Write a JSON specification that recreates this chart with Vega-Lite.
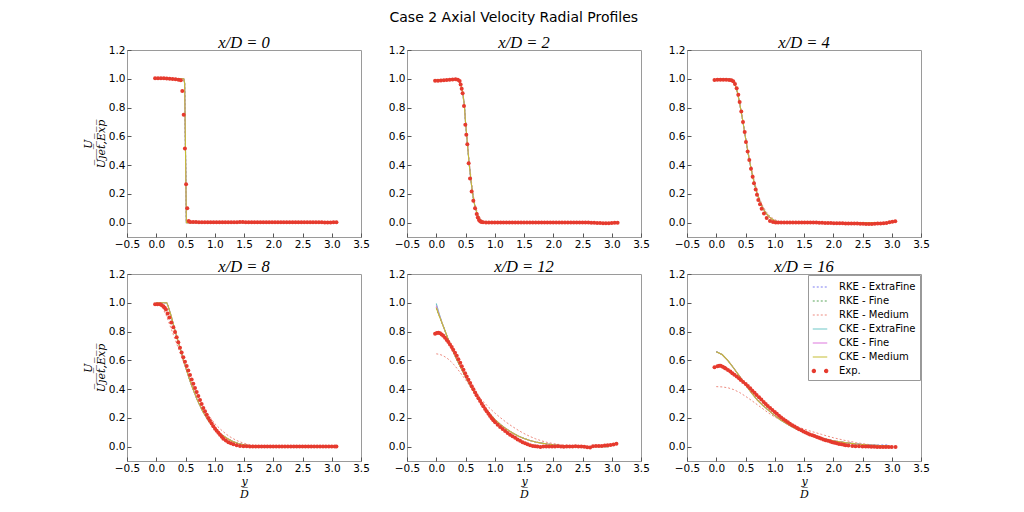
{
  "$schema": "https://vega.github.io/schema/vega-lite/v6.json",
  "description": "Case 2 axial velocity radial profiles: RKE and CKE runs on three grids against the measured profile, six stations x/D.",
  "background": "white",
  "padding": {"left": 81, "top": 11, "right": 5, "bottom": 5},
  "title": {"text": "Case 2 Axial Velocity Radial Profiles", "font": "DejaVu Sans", "fontStyle": "normal", "fontSize": 14, "fontWeight": "normal", "color": "black", "anchor": "middle", "frame": "bounds", "dx": 8, "offset": 9},
  "datasets": {
    "names": [
      {"k": "a", "series": "RKE - ExtraFine"},
      {"k": "b", "series": "RKE - Fine"},
      {"k": "c", "series": "RKE - Medium"},
      {"k": "d", "series": "CKE - ExtraFine"},
      {"k": "e", "series": "CKE - Fine"},
      {"k": "f", "series": "CKE - Medium"}
    ],
    "sim": [
      {"p":0,"r":0,"a":1,"b":1,"c":1,"d":1,"e":1,"f":1},
      {"p":0,"r":0.2,"a":1,"b":1,"c":1,"d":1,"e":1,"f":1},
      {"p":0,"r":0.47,"a":1,"b":1,"c":1,"d":1,"e":1,"f":1},
      {"p":0,"r":0.485,"a":0.97,"b":0.97,"c":0.97,"d":0.97,"e":0.97,"f":0.97},
      {"p":0,"r":0.5,"a":0.5,"b":0.5,"c":0.5,"d":0.5,"e":0.5,"f":0.5},
      {"p":0,"r":0.515,"a":0,"b":0,"c":0,"d":0,"e":0,"f":0},
      {"p":0,"r":0.6,"a":0,"b":0,"c":0,"d":0,"e":0,"f":0},
      {"p":0,"r":1.5,"a":0,"b":0,"c":0,"d":0,"e":0,"f":0},
      {"p":0,"r":2.95,"a":0,"b":0,"c":0,"d":0,"e":0,"f":0},

      {"p":1,"r":0,"a":0.995,"b":0.995,"c":0.995,"d":0.995,"e":0.995,"f":0.995},
      {"p":1,"r":0.1,"a":0.995,"b":0.995,"c":0.995,"d":0.995,"e":0.995,"f":0.995},
      {"p":1,"r":0.2,"a":0.995,"b":0.995,"c":0.995,"d":0.995,"e":0.995,"f":0.995},
      {"p":1,"r":0.3,"a":0.995,"b":0.995,"c":0.994,"d":0.995,"e":0.995,"f":0.995},
      {"p":1,"r":0.35,"a":0.993,"b":0.993,"c":0.99,"d":0.993,"e":0.993,"f":0.993},
      {"p":1,"r":0.4,"a":0.98,"b":0.98,"c":0.975,"d":0.98,"e":0.98,"f":0.98},
      {"p":1,"r":0.43,"a":0.95,"b":0.95,"c":0.94,"d":0.95,"e":0.95,"f":0.95},
      {"p":1,"r":0.45,"a":0.91,"b":0.91,"c":0.9,"d":0.91,"e":0.91,"f":0.91},
      {"p":1,"r":0.48,"a":0.82,"b":0.82,"c":0.8,"d":0.82,"e":0.82,"f":0.82},
      {"p":1,"r":0.5,"a":0.7,"b":0.7,"c":0.71,"d":0.7,"e":0.7,"f":0.7},
      {"p":1,"r":0.53,"a":0.56,"b":0.56,"c":0.57,"d":0.56,"e":0.56,"f":0.56},
      {"p":1,"r":0.56,"a":0.42,"b":0.42,"c":0.44,"d":0.42,"e":0.42,"f":0.42},
      {"p":1,"r":0.6,"a":0.27,"b":0.27,"c":0.29,"d":0.27,"e":0.27,"f":0.27},
      {"p":1,"r":0.63,"a":0.18,"b":0.18,"c":0.2,"d":0.18,"e":0.18,"f":0.18},
      {"p":1,"r":0.66,"a":0.115,"b":0.115,"c":0.13,"d":0.115,"e":0.115,"f":0.115},
      {"p":1,"r":0.7,"a":0.06,"b":0.06,"c":0.075,"d":0.06,"e":0.06,"f":0.06},
      {"p":1,"r":0.75,"a":0.022,"b":0.022,"c":0.033,"d":0.022,"e":0.022,"f":0.022},
      {"p":1,"r":0.8,"a":0.006,"b":0.006,"c":0.012,"d":0.006,"e":0.006,"f":0.006},
      {"p":1,"r":0.85,"a":0.001,"b":0.001,"c":0.004,"d":0.001,"e":0.001,"f":0.001},
      {"p":1,"r":0.9,"a":0,"b":0,"c":0.001,"d":0,"e":0,"f":0},
      {"p":1,"r":1.5,"a":0,"b":0,"c":0,"d":0,"e":0,"f":0},
      {"p":1,"r":2.95,"a":0,"b":0,"c":0,"d":0,"e":0,"f":0},

      {"p":2,"r":0,"a":0.998,"b":0.998,"c":0.998,"d":0.998,"e":0.998,"f":0.998},
      {"p":2,"r":0.1,"a":0.998,"b":0.998,"c":0.998,"d":0.998,"e":0.998,"f":0.998},
      {"p":2,"r":0.2,"a":0.998,"b":0.998,"c":0.997,"d":0.998,"e":0.998,"f":0.998},
      {"p":2,"r":0.25,"a":0.996,"b":0.996,"c":0.99,"d":0.996,"e":0.996,"f":0.996},
      {"p":2,"r":0.28,"a":0.99,"b":0.99,"c":0.98,"d":0.99,"e":0.99,"f":0.99},
      {"p":2,"r":0.32,"a":0.96,"b":0.96,"c":0.955,"d":0.96,"e":0.96,"f":0.96},
      {"p":2,"r":0.36,"a":0.91,"b":0.91,"c":0.905,"d":0.91,"e":0.91,"f":0.91},
      {"p":2,"r":0.4,"a":0.83,"b":0.83,"c":0.83,"d":0.83,"e":0.83,"f":0.83},
      {"p":2,"r":0.45,"a":0.715,"b":0.715,"c":0.72,"d":0.715,"e":0.715,"f":0.715},
      {"p":2,"r":0.5,"a":0.59,"b":0.59,"c":0.6,"d":0.59,"e":0.59,"f":0.59},
      {"p":2,"r":0.55,"a":0.47,"b":0.47,"c":0.485,"d":0.47,"e":0.47,"f":0.47},
      {"p":2,"r":0.6,"a":0.365,"b":0.365,"c":0.38,"d":0.365,"e":0.365,"f":0.365},
      {"p":2,"r":0.65,"a":0.275,"b":0.275,"c":0.29,"d":0.275,"e":0.275,"f":0.275},
      {"p":2,"r":0.7,"a":0.2,"b":0.2,"c":0.215,"d":0.2,"e":0.2,"f":0.2},
      {"p":2,"r":0.75,"a":0.142,"b":0.142,"c":0.157,"d":0.142,"e":0.142,"f":0.142},
      {"p":2,"r":0.8,"a":0.098,"b":0.098,"c":0.112,"d":0.098,"e":0.098,"f":0.098},
      {"p":2,"r":0.85,"a":0.066,"b":0.066,"c":0.077,"d":0.066,"e":0.066,"f":0.066},
      {"p":2,"r":0.9,"a":0.042,"b":0.042,"c":0.052,"d":0.042,"e":0.042,"f":0.042},
      {"p":2,"r":0.95,"a":0.025,"b":0.025,"c":0.034,"d":0.025,"e":0.025,"f":0.025},
      {"p":2,"r":1.0,"a":0.013,"b":0.013,"c":0.021,"d":0.013,"e":0.013,"f":0.013},
      {"p":2,"r":1.05,"a":0.006,"b":0.006,"c":0.012,"d":0.006,"e":0.006,"f":0.006},
      {"p":2,"r":1.1,"a":0.002,"b":0.002,"c":0.006,"d":0.002,"e":0.002,"f":0.002},
      {"p":2,"r":1.15,"a":0,"b":0,"c":0.002,"d":0,"e":0,"f":0},
      {"p":2,"r":1.2,"a":0,"b":0,"c":0,"d":0,"e":0,"f":0},
      {"p":2,"r":1.5,"a":0,"b":0,"c":0,"d":0,"e":0,"f":0},
      {"p":2,"r":2.95,"a":0,"b":0,"c":0,"d":0,"e":0,"f":0},

      {"p":3,"r":0,"a":1,"b":1,"c":1,"d":1,"e":1,"f":1},
      {"p":3,"r":0.05,"a":1,"b":1,"c":0.995,"d":1,"e":1,"f":1},
      {"p":3,"r":0.1,"a":1,"b":1,"c":0.97,"d":1,"e":1,"f":1},
      {"p":3,"r":0.15,"a":1,"b":1,"c":0.93,"d":1,"e":1,"f":1},
      {"p":3,"r":0.18,"a":1,"b":1,"c":0.905,"d":1,"e":1,"f":1},
      {"p":3,"r":0.2,"a":0.98,"b":0.98,"c":0.88,"d":0.98,"e":0.98,"f":0.98},
      {"p":3,"r":0.25,"a":0.915,"b":0.915,"c":0.825,"d":0.915,"e":0.915,"f":0.915},
      {"p":3,"r":0.3,"a":0.84,"b":0.84,"c":0.77,"d":0.84,"e":0.84,"f":0.84},
      {"p":3,"r":0.35,"a":0.765,"b":0.765,"c":0.715,"d":0.765,"e":0.765,"f":0.765},
      {"p":3,"r":0.4,"a":0.695,"b":0.695,"c":0.66,"d":0.695,"e":0.695,"f":0.695},
      {"p":3,"r":0.45,"a":0.625,"b":0.625,"c":0.605,"d":0.625,"e":0.625,"f":0.625},
      {"p":3,"r":0.5,"a":0.555,"b":0.555,"c":0.55,"d":0.555,"e":0.555,"f":0.555},
      {"p":3,"r":0.55,"a":0.49,"b":0.49,"c":0.5,"d":0.49,"e":0.49,"f":0.49},
      {"p":3,"r":0.6,"a":0.43,"b":0.43,"c":0.45,"d":0.43,"e":0.43,"f":0.43},
      {"p":3,"r":0.7,"a":0.325,"b":0.325,"c":0.36,"d":0.325,"e":0.325,"f":0.325},
      {"p":3,"r":0.8,"a":0.24,"b":0.24,"c":0.28,"d":0.24,"e":0.24,"f":0.24},
      {"p":3,"r":0.9,"a":0.175,"b":0.175,"c":0.215,"d":0.175,"e":0.175,"f":0.175},
      {"p":3,"r":1.0,"a":0.125,"b":0.125,"c":0.16,"d":0.125,"e":0.125,"f":0.125},
      {"p":3,"r":1.1,"a":0.088,"b":0.088,"c":0.12,"d":0.088,"e":0.088,"f":0.088},
      {"p":3,"r":1.2,"a":0.06,"b":0.06,"c":0.085,"d":0.06,"e":0.06,"f":0.06},
      {"p":3,"r":1.3,"a":0.038,"b":0.038,"c":0.058,"d":0.038,"e":0.038,"f":0.038},
      {"p":3,"r":1.4,"a":0.022,"b":0.022,"c":0.038,"d":0.022,"e":0.022,"f":0.022},
      {"p":3,"r":1.5,"a":0.012,"b":0.012,"c":0.023,"d":0.012,"e":0.012,"f":0.012},
      {"p":3,"r":1.6,"a":0.005,"b":0.005,"c":0.013,"d":0.005,"e":0.005,"f":0.005},
      {"p":3,"r":1.7,"a":0.002,"b":0.002,"c":0.006,"d":0.002,"e":0.002,"f":0.002},
      {"p":3,"r":1.8,"a":0.001,"b":0.001,"c":0.002,"d":0.001,"e":0.001,"f":0.001},
      {"p":3,"r":1.9,"a":0,"b":0,"c":0.001,"d":0,"e":0,"f":0},
      {"p":3,"r":2.0,"a":0,"b":0,"c":0,"d":0,"e":0,"f":0},
      {"p":3,"r":2.95,"a":0,"b":0,"c":0,"d":0,"e":0,"f":0},

      {"p":4,"r":0,"a":0.965,"b":0.965,"c":0.645,"d":0.995,"e":0.98,"f":0.965},
      {"p":4,"r":0.05,"a":0.91,"b":0.91,"c":0.642,"d":0.925,"e":0.918,"f":0.91},
      {"p":4,"r":0.1,"a":0.858,"b":0.858,"c":0.635,"d":0.86,"e":0.859,"f":0.858},
      {"p":4,"r":0.15,"a":0.805,"b":0.805,"c":0.624,"d":0.805,"e":0.805,"f":0.805},
      {"p":4,"r":0.2,"a":0.75,"b":0.75,"c":0.61,"d":0.75,"e":0.75,"f":0.75},
      {"p":4,"r":0.25,"a":0.7,"b":0.7,"c":0.592,"d":0.7,"e":0.7,"f":0.7},
      {"p":4,"r":0.3,"a":0.65,"b":0.65,"c":0.57,"d":0.65,"e":0.65,"f":0.65},
      {"p":4,"r":0.35,"a":0.605,"b":0.605,"c":0.546,"d":0.605,"e":0.605,"f":0.605},
      {"p":4,"r":0.4,"a":0.565,"b":0.565,"c":0.52,"d":0.565,"e":0.565,"f":0.565},
      {"p":4,"r":0.5,"a":0.485,"b":0.485,"c":0.465,"d":0.485,"e":0.485,"f":0.485},
      {"p":4,"r":0.6,"a":0.41,"b":0.41,"c":0.41,"d":0.41,"e":0.41,"f":0.41},
      {"p":4,"r":0.7,"a":0.345,"b":0.345,"c":0.36,"d":0.345,"e":0.345,"f":0.345},
      {"p":4,"r":0.8,"a":0.287,"b":0.287,"c":0.315,"d":0.287,"e":0.287,"f":0.287},
      {"p":4,"r":0.9,"a":0.235,"b":0.235,"c":0.272,"d":0.235,"e":0.235,"f":0.235},
      {"p":4,"r":1.0,"a":0.19,"b":0.19,"c":0.234,"d":0.19,"e":0.19,"f":0.19},
      {"p":4,"r":1.1,"a":0.153,"b":0.153,"c":0.2,"d":0.153,"e":0.153,"f":0.153},
      {"p":4,"r":1.2,"a":0.122,"b":0.122,"c":0.168,"d":0.122,"e":0.122,"f":0.122},
      {"p":4,"r":1.3,"a":0.096,"b":0.096,"c":0.14,"d":0.096,"e":0.096,"f":0.096},
      {"p":4,"r":1.4,"a":0.074,"b":0.074,"c":0.114,"d":0.074,"e":0.074,"f":0.074},
      {"p":4,"r":1.5,"a":0.057,"b":0.057,"c":0.091,"d":0.057,"e":0.057,"f":0.057},
      {"p":4,"r":1.6,"a":0.043,"b":0.043,"c":0.071,"d":0.043,"e":0.043,"f":0.043},
      {"p":4,"r":1.7,"a":0.032,"b":0.032,"c":0.054,"d":0.032,"e":0.032,"f":0.032},
      {"p":4,"r":1.8,"a":0.024,"b":0.024,"c":0.04,"d":0.024,"e":0.024,"f":0.024},
      {"p":4,"r":1.9,"a":0.018,"b":0.018,"c":0.029,"d":0.018,"e":0.018,"f":0.018},
      {"p":4,"r":2.0,"a":0.013,"b":0.013,"c":0.021,"d":0.013,"e":0.013,"f":0.013},
      {"p":4,"r":2.1,"a":0.009,"b":0.009,"c":0.015,"d":0.009,"e":0.009,"f":0.009},
      {"p":4,"r":2.2,"a":0.006,"b":0.006,"c":0.011,"d":0.006,"e":0.006,"f":0.006},
      {"p":4,"r":2.3,"a":0.004,"b":0.004,"c":0.008,"d":0.004,"e":0.004,"f":0.004},
      {"p":4,"r":2.4,"a":0.002,"b":0.002,"c":0.005,"d":0.002,"e":0.002,"f":0.002},
      {"p":4,"r":2.6,"a":0.001,"b":0.001,"c":0.002,"d":0.001,"e":0.001,"f":0.001},
      {"p":4,"r":2.95,"a":0,"b":0,"c":0,"d":0,"e":0,"f":0},

      {"p":5,"r":0,"a":0.66,"b":0.66,"c":0.417,"d":0.66,"e":0.66,"f":0.66},
      {"p":5,"r":0.1,"a":0.64,"b":0.64,"c":0.415,"d":0.64,"e":0.64,"f":0.64},
      {"p":5,"r":0.2,"a":0.598,"b":0.598,"c":0.409,"d":0.598,"e":0.598,"f":0.598},
      {"p":5,"r":0.3,"a":0.545,"b":0.545,"c":0.396,"d":0.545,"e":0.545,"f":0.545},
      {"p":5,"r":0.4,"a":0.488,"b":0.488,"c":0.376,"d":0.488,"e":0.488,"f":0.488},
      {"p":5,"r":0.5,"a":0.43,"b":0.43,"c":0.35,"d":0.43,"e":0.43,"f":0.43},
      {"p":5,"r":0.6,"a":0.375,"b":0.375,"c":0.322,"d":0.375,"e":0.375,"f":0.375},
      {"p":5,"r":0.7,"a":0.325,"b":0.325,"c":0.292,"d":0.325,"e":0.325,"f":0.325},
      {"p":5,"r":0.8,"a":0.285,"b":0.285,"c":0.262,"d":0.285,"e":0.285,"f":0.285},
      {"p":5,"r":0.9,"a":0.25,"b":0.25,"c":0.232,"d":0.25,"e":0.25,"f":0.25},
      {"p":5,"r":1.0,"a":0.215,"b":0.215,"c":0.206,"d":0.215,"e":0.215,"f":0.215},
      {"p":5,"r":1.1,"a":0.185,"b":0.185,"c":0.186,"d":0.185,"e":0.185,"f":0.185},
      {"p":5,"r":1.2,"a":0.16,"b":0.16,"c":0.168,"d":0.16,"e":0.16,"f":0.16},
      {"p":5,"r":1.3,"a":0.137,"b":0.137,"c":0.151,"d":0.137,"e":0.137,"f":0.137},
      {"p":5,"r":1.4,"a":0.117,"b":0.117,"c":0.136,"d":0.117,"e":0.117,"f":0.117},
      {"p":5,"r":1.5,"a":0.1,"b":0.1,"c":0.122,"d":0.1,"e":0.1,"f":0.1},
      {"p":5,"r":1.6,"a":0.085,"b":0.085,"c":0.109,"d":0.085,"e":0.085,"f":0.085},
      {"p":5,"r":1.7,"a":0.072,"b":0.072,"c":0.097,"d":0.072,"e":0.072,"f":0.072},
      {"p":5,"r":1.8,"a":0.06,"b":0.06,"c":0.085,"d":0.06,"e":0.06,"f":0.06},
      {"p":5,"r":1.9,"a":0.05,"b":0.05,"c":0.073,"d":0.05,"e":0.05,"f":0.05},
      {"p":5,"r":2.0,"a":0.041,"b":0.041,"c":0.062,"d":0.041,"e":0.041,"f":0.041},
      {"p":5,"r":2.2,"a":0.028,"b":0.028,"c":0.043,"d":0.028,"e":0.028,"f":0.028},
      {"p":5,"r":2.4,"a":0.018,"b":0.018,"c":0.027,"d":0.018,"e":0.018,"f":0.018},
      {"p":5,"r":2.6,"a":0.012,"b":0.011,"c":0.015,"d":0.011,"e":0.011,"f":0.011},
      {"p":5,"r":2.8,"a":0.011,"b":0.007,"c":0.007,"d":0.007,"e":0.007,"f":0.007},
      {"p":5,"r":2.95,"a":0.012,"b":0.005,"c":0.003,"d":0.005,"e":0.005,"f":0.005}
    ],
    "exp": [
      {"p":0,"r":-0.02,"u":1.003},{"p":0,"r":0.03,"u":1.004},{"p":0,"r":0.08,"u":1.004},{"p":0,"r":0.13,"u":1.003},{"p":0,"r":0.18,"u":1.002},{"p":0,"r":0.23,"u":1.0},{"p":0,"r":0.28,"u":0.998},{"p":0,"r":0.33,"u":0.996},{"p":0,"r":0.38,"u":0.993},{"p":0,"r":0.42,"u":0.99},{"p":0,"r":0.445,"u":0.915},{"p":0,"r":0.469,"u":0.75},{"p":0,"r":0.49,"u":0.515},{"p":0,"r":0.51,"u":0.266},{"p":0,"r":0.53,"u":0.099},{"p":0,"r":0.555,"u":0.012},{"p":0,"r":0.58,"u":0.005},{"p":0,"r":0.63,"u":0.004},{"p":0,"r":0.68,"u":0.004},{"p":0,"r":0.73,"u":0.003},{"p":0,"r":0.78,"u":0.003},{"p":0,"r":0.83,"u":0.003},{"p":0,"r":0.88,"u":0.003},{"p":0,"r":0.93,"u":0.003},{"p":0,"r":0.98,"u":0.003},{"p":0,"r":1.03,"u":0.003},{"p":0,"r":1.08,"u":0.003},{"p":0,"r":1.13,"u":0.003},{"p":0,"r":1.18,"u":0.003},{"p":0,"r":1.23,"u":0.003},{"p":0,"r":1.28,"u":0.003},{"p":0,"r":1.33,"u":0.003},{"p":0,"r":1.38,"u":0.003},{"p":0,"r":1.43,"u":0.004},{"p":0,"r":1.48,"u":0.004},{"p":0,"r":1.53,"u":0.003},{"p":0,"r":1.58,"u":0.002},{"p":0,"r":1.63,"u":0.002},{"p":0,"r":1.68,"u":0.002},{"p":0,"r":1.73,"u":0.002},{"p":0,"r":1.78,"u":0.002},{"p":0,"r":1.83,"u":0.002},{"p":0,"r":1.88,"u":0.002},{"p":0,"r":1.93,"u":0.002},{"p":0,"r":1.98,"u":0.002},{"p":0,"r":2.03,"u":0.002},{"p":0,"r":2.08,"u":0.002},{"p":0,"r":2.13,"u":0.002},{"p":0,"r":2.18,"u":0.002},{"p":0,"r":2.23,"u":0.002},{"p":0,"r":2.28,"u":0.002},{"p":0,"r":2.33,"u":0.002},{"p":0,"r":2.38,"u":0.002},{"p":0,"r":2.43,"u":0.002},{"p":0,"r":2.48,"u":0.002},{"p":0,"r":2.53,"u":0.002},{"p":0,"r":2.58,"u":0.002},{"p":0,"r":2.63,"u":0.002},{"p":0,"r":2.68,"u":0.002},{"p":0,"r":2.73,"u":0.002},{"p":0,"r":2.78,"u":0.002},{"p":0,"r":2.83,"u":0.002},{"p":0,"r":2.88,"u":0.001},{"p":0,"r":2.93,"u":0.001},{"p":0,"r":2.98,"u":0.001},{"p":0,"r":3.03,"u":0.002},{"p":0,"r":3.08,"u":0.002},

      {"p":1,"r":-0.02,"u":0.987},{"p":1,"r":0.03,"u":0.987},{"p":1,"r":0.08,"u":0.988},{"p":1,"r":0.13,"u":0.989},{"p":1,"r":0.18,"u":0.991},{"p":1,"r":0.23,"u":0.993},{"p":1,"r":0.28,"u":0.995},{"p":1,"r":0.33,"u":0.996},{"p":1,"r":0.37,"u":0.994},{"p":1,"r":0.4,"u":0.985},{"p":1,"r":0.417,"u":0.96},{"p":1,"r":0.435,"u":0.93},{"p":1,"r":0.451,"u":0.9},{"p":1,"r":0.474,"u":0.81},{"p":1,"r":0.497,"u":0.68},{"p":1,"r":0.514,"u":0.61},{"p":1,"r":0.531,"u":0.544},{"p":1,"r":0.554,"u":0.412},{"p":1,"r":0.577,"u":0.306},{"p":1,"r":0.605,"u":0.217},{"p":1,"r":0.634,"u":0.152},{"p":1,"r":0.663,"u":0.099},{"p":1,"r":0.691,"u":0.06},{"p":1,"r":0.71,"u":0.035},{"p":1,"r":0.73,"u":0.018},{"p":1,"r":0.75,"u":0.009},{"p":1,"r":0.77,"u":0.004},{"p":1,"r":0.8,"u":0.002},{"p":1,"r":0.85,"u":0.001},{"p":1,"r":0.9,"u":0.001},{"p":1,"r":0.95,"u":0.001},{"p":1,"r":1.0,"u":0.001},{"p":1,"r":1.05,"u":0.001},{"p":1,"r":1.1,"u":0.001},{"p":1,"r":1.15,"u":0.001},{"p":1,"r":1.2,"u":0.001},{"p":1,"r":1.25,"u":0.001},{"p":1,"r":1.3,"u":0.001},{"p":1,"r":1.35,"u":0.001},{"p":1,"r":1.4,"u":0.001},{"p":1,"r":1.45,"u":0.001},{"p":1,"r":1.5,"u":0.001},{"p":1,"r":1.55,"u":0.001},{"p":1,"r":1.6,"u":0.001},{"p":1,"r":1.65,"u":0.001},{"p":1,"r":1.7,"u":0.001},{"p":1,"r":1.75,"u":0.001},{"p":1,"r":1.8,"u":0.001},{"p":1,"r":1.85,"u":0.001},{"p":1,"r":1.9,"u":0.001},{"p":1,"r":1.95,"u":0.001},{"p":1,"r":2.0,"u":0.001},{"p":1,"r":2.05,"u":0.001},{"p":1,"r":2.1,"u":0.001},{"p":1,"r":2.15,"u":0.001},{"p":1,"r":2.2,"u":0.001},{"p":1,"r":2.25,"u":0.0},{"p":1,"r":2.3,"u":0.0},{"p":1,"r":2.35,"u":0.0},{"p":1,"r":2.4,"u":0.0},{"p":1,"r":2.45,"u":0.0},{"p":1,"r":2.5,"u":0.0},{"p":1,"r":2.55,"u":0.0},{"p":1,"r":2.6,"u":0.0},{"p":1,"r":2.65,"u":-0.001},{"p":1,"r":2.7,"u":-0.001},{"p":1,"r":2.75,"u":-0.002},{"p":1,"r":2.8,"u":-0.003},{"p":1,"r":2.85,"u":-0.005},{"p":1,"r":2.9,"u":-0.005},{"p":1,"r":2.95,"u":-0.004},{"p":1,"r":3.0,"u":-0.002},{"p":1,"r":3.05,"u":-0.001},{"p":1,"r":3.1,"u":-0.001},

      {"p":2,"r":-0.03,"u":0.992},{"p":2,"r":0.02,"u":0.993},{"p":2,"r":0.07,"u":0.993},{"p":2,"r":0.12,"u":0.993},{"p":2,"r":0.17,"u":0.993},{"p":2,"r":0.22,"u":0.992},{"p":2,"r":0.26,"u":0.99},{"p":2,"r":0.29,"u":0.983},{"p":2,"r":0.32,"u":0.964},{"p":2,"r":0.349,"u":0.934},{"p":2,"r":0.377,"u":0.889},{"p":2,"r":0.4,"u":0.839},{"p":2,"r":0.428,"u":0.772},{"p":2,"r":0.457,"u":0.699},{"p":2,"r":0.486,"u":0.63},{"p":2,"r":0.508,"u":0.56},{"p":2,"r":0.537,"u":0.494},{"p":2,"r":0.565,"u":0.435},{"p":2,"r":0.594,"u":0.375},{"p":2,"r":0.622,"u":0.319},{"p":2,"r":0.645,"u":0.273},{"p":2,"r":0.674,"u":0.231},{"p":2,"r":0.696,"u":0.194},{"p":2,"r":0.719,"u":0.157},{"p":2,"r":0.748,"u":0.127},{"p":2,"r":0.776,"u":0.097},{"p":2,"r":0.816,"u":0.064},{"p":2,"r":0.862,"u":0.032},{"p":2,"r":0.919,"u":0.011},{"p":2,"r":0.97,"u":0.004},{"p":2,"r":1.016,"u":0.001},{"p":2,"r":1.06,"u":0.0},{"p":2,"r":1.11,"u":0.0},{"p":2,"r":1.16,"u":0.0},{"p":2,"r":1.21,"u":0.0},{"p":2,"r":1.26,"u":0.0},{"p":2,"r":1.31,"u":0.0},{"p":2,"r":1.36,"u":0.0},{"p":2,"r":1.41,"u":0.0},{"p":2,"r":1.46,"u":0.0},{"p":2,"r":1.51,"u":0.0},{"p":2,"r":1.56,"u":0.0},{"p":2,"r":1.61,"u":0.0},{"p":2,"r":1.66,"u":0.0},{"p":2,"r":1.71,"u":0.0},{"p":2,"r":1.76,"u":-0.001},{"p":2,"r":1.81,"u":-0.001},{"p":2,"r":1.86,"u":-0.002},{"p":2,"r":1.91,"u":-0.002},{"p":2,"r":1.96,"u":-0.003},{"p":2,"r":2.01,"u":-0.004},{"p":2,"r":2.06,"u":-0.004},{"p":2,"r":2.11,"u":-0.005},{"p":2,"r":2.16,"u":-0.004},{"p":2,"r":2.21,"u":-0.006},{"p":2,"r":2.26,"u":-0.006},{"p":2,"r":2.31,"u":-0.007},{"p":2,"r":2.36,"u":-0.006},{"p":2,"r":2.41,"u":-0.007},{"p":2,"r":2.46,"u":-0.008},{"p":2,"r":2.51,"u":-0.008},{"p":2,"r":2.56,"u":-0.009},{"p":2,"r":2.61,"u":-0.009},{"p":2,"r":2.66,"u":-0.009},{"p":2,"r":2.71,"u":-0.008},{"p":2,"r":2.76,"u":-0.007},{"p":2,"r":2.81,"u":-0.006},{"p":2,"r":2.86,"u":-0.004},{"p":2,"r":2.91,"u":-0.002},{"p":2,"r":2.96,"u":0.002},{"p":2,"r":3.01,"u":0.006},{"p":2,"r":3.06,"u":0.009},

      {"p":3,"r":-0.02,"u":0.99},{"p":3,"r":0.02,"u":0.99},{"p":3,"r":0.064,"u":0.99},{"p":3,"r":0.09,"u":0.985},{"p":3,"r":0.121,"u":0.976},{"p":3,"r":0.145,"u":0.965},{"p":3,"r":0.166,"u":0.953},{"p":3,"r":0.195,"u":0.925},{"p":3,"r":0.224,"u":0.897},{"p":3,"r":0.258,"u":0.862},{"p":3,"r":0.292,"u":0.83},{"p":3,"r":0.321,"u":0.797},{"p":3,"r":0.349,"u":0.76},{"p":3,"r":0.377,"u":0.725},{"p":3,"r":0.406,"u":0.688},{"p":3,"r":0.434,"u":0.655},{"p":3,"r":0.463,"u":0.622},{"p":3,"r":0.491,"u":0.59},{"p":3,"r":0.52,"u":0.56},{"p":3,"r":0.548,"u":0.529},{"p":3,"r":0.577,"u":0.497},{"p":3,"r":0.605,"u":0.467},{"p":3,"r":0.634,"u":0.437},{"p":3,"r":0.662,"u":0.408},{"p":3,"r":0.691,"u":0.38},{"p":3,"r":0.719,"u":0.352},{"p":3,"r":0.748,"u":0.324},{"p":3,"r":0.776,"u":0.296},{"p":3,"r":0.805,"u":0.269},{"p":3,"r":0.833,"u":0.245},{"p":3,"r":0.862,"u":0.222},{"p":3,"r":0.89,"u":0.199},{"p":3,"r":0.919,"u":0.179},{"p":3,"r":0.948,"u":0.16},{"p":3,"r":0.976,"u":0.142},{"p":3,"r":1.005,"u":0.125},{"p":3,"r":1.033,"u":0.11},{"p":3,"r":1.062,"u":0.096},{"p":3,"r":1.09,"u":0.082},{"p":3,"r":1.12,"u":0.068},{"p":3,"r":1.147,"u":0.054},{"p":3,"r":1.19,"u":0.042},{"p":3,"r":1.233,"u":0.031},{"p":3,"r":1.275,"u":0.023},{"p":3,"r":1.318,"u":0.017},{"p":3,"r":1.375,"u":0.01},{"p":3,"r":1.432,"u":0.005},{"p":3,"r":1.49,"u":0.003},{"p":3,"r":1.546,"u":0.002},{"p":3,"r":1.6,"u":0.001},{"p":3,"r":1.65,"u":0.001},{"p":3,"r":1.7,"u":0.001},{"p":3,"r":1.75,"u":0.001},{"p":3,"r":1.8,"u":0.001},{"p":3,"r":1.85,"u":0.001},{"p":3,"r":1.9,"u":0.001},{"p":3,"r":1.95,"u":0.001},{"p":3,"r":2.0,"u":0.001},{"p":3,"r":2.05,"u":0.001},{"p":3,"r":2.1,"u":0.001},{"p":3,"r":2.15,"u":0.001},{"p":3,"r":2.2,"u":0.001},{"p":3,"r":2.25,"u":0.001},{"p":3,"r":2.3,"u":0.001},{"p":3,"r":2.35,"u":0.001},{"p":3,"r":2.4,"u":0.001},{"p":3,"r":2.45,"u":0.001},{"p":3,"r":2.5,"u":0.001},{"p":3,"r":2.55,"u":0.001},{"p":3,"r":2.6,"u":0.001},{"p":3,"r":2.65,"u":0.001},{"p":3,"r":2.7,"u":0.001},{"p":3,"r":2.75,"u":0.001},{"p":3,"r":2.8,"u":0.001},{"p":3,"r":2.85,"u":0.001},{"p":3,"r":2.9,"u":0.001},{"p":3,"r":2.95,"u":0.001},{"p":3,"r":3.0,"u":0.001},{"p":3,"r":3.05,"u":0.001},{"p":3,"r":3.08,"u":0.001},

      {"p":4,"r":-0.02,"u":0.785},{"p":4,"r":0.01,"u":0.79},{"p":4,"r":0.036,"u":0.792},{"p":4,"r":0.065,"u":0.788},{"p":4,"r":0.093,"u":0.78},{"p":4,"r":0.12,"u":0.77},{"p":4,"r":0.15,"u":0.757},{"p":4,"r":0.18,"u":0.742},{"p":4,"r":0.207,"u":0.727},{"p":4,"r":0.235,"u":0.71},{"p":4,"r":0.264,"u":0.692},{"p":4,"r":0.29,"u":0.673},{"p":4,"r":0.321,"u":0.653},{"p":4,"r":0.35,"u":0.631},{"p":4,"r":0.378,"u":0.608},{"p":4,"r":0.41,"u":0.583},{"p":4,"r":0.436,"u":0.559},{"p":4,"r":0.465,"u":0.534},{"p":4,"r":0.493,"u":0.51},{"p":4,"r":0.52,"u":0.487},{"p":4,"r":0.55,"u":0.464},{"p":4,"r":0.58,"u":0.442},{"p":4,"r":0.607,"u":0.42},{"p":4,"r":0.635,"u":0.398},{"p":4,"r":0.664,"u":0.377},{"p":4,"r":0.69,"u":0.357},{"p":4,"r":0.721,"u":0.337},{"p":4,"r":0.75,"u":0.317},{"p":4,"r":0.778,"u":0.298},{"p":4,"r":0.805,"u":0.28},{"p":4,"r":0.835,"u":0.262},{"p":4,"r":0.862,"u":0.245},{"p":4,"r":0.892,"u":0.228},{"p":4,"r":0.92,"u":0.212},{"p":4,"r":0.949,"u":0.197},{"p":4,"r":0.976,"u":0.183},{"p":4,"r":1.006,"u":0.17},{"p":4,"r":1.05,"u":0.152},{"p":4,"r":1.092,"u":0.136},{"p":4,"r":1.135,"u":0.122},{"p":4,"r":1.177,"u":0.108},{"p":4,"r":1.22,"u":0.095},{"p":4,"r":1.262,"u":0.083},{"p":4,"r":1.305,"u":0.072},{"p":4,"r":1.348,"u":0.061},{"p":4,"r":1.39,"u":0.05},{"p":4,"r":1.433,"u":0.04},{"p":4,"r":1.475,"u":0.031},{"p":4,"r":1.518,"u":0.023},{"p":4,"r":1.56,"u":0.016},{"p":4,"r":1.604,"u":0.01},{"p":4,"r":1.65,"u":0.005},{"p":4,"r":1.69,"u":0.002},{"p":4,"r":1.73,"u":0.0},{"p":4,"r":1.78,"u":-0.002},{"p":4,"r":1.83,"u":0.0},{"p":4,"r":1.88,"u":0.001},{"p":4,"r":1.93,"u":0.0},{"p":4,"r":1.98,"u":0.0},{"p":4,"r":2.03,"u":0.001},{"p":4,"r":2.08,"u":0.002},{"p":4,"r":2.13,"u":0.001},{"p":4,"r":2.18,"u":-0.001},{"p":4,"r":2.23,"u":0.0},{"p":4,"r":2.28,"u":0.0},{"p":4,"r":2.33,"u":0.001},{"p":4,"r":2.38,"u":0.002},{"p":4,"r":2.43,"u":0.001},{"p":4,"r":2.48,"u":0.0},{"p":4,"r":2.53,"u":-0.001},{"p":4,"r":2.58,"u":-0.004},{"p":4,"r":2.63,"u":-0.006},{"p":4,"r":2.68,"u":0.003},{"p":4,"r":2.73,"u":0.005},{"p":4,"r":2.78,"u":0.004},{"p":4,"r":2.83,"u":0.005},{"p":4,"r":2.88,"u":0.007},{"p":4,"r":2.93,"u":0.009},{"p":4,"r":2.98,"u":0.011},{"p":4,"r":3.03,"u":0.014},{"p":4,"r":3.08,"u":0.02},

      {"p":5,"r":-0.03,"u":0.552},{"p":5,"r":0.02,"u":0.558},{"p":5,"r":0.05,"u":0.562},{"p":5,"r":0.076,"u":0.562},{"p":5,"r":0.11,"u":0.556},{"p":5,"r":0.14,"u":0.548},{"p":5,"r":0.161,"u":0.543},{"p":5,"r":0.2,"u":0.533},{"p":5,"r":0.24,"u":0.522},{"p":5,"r":0.275,"u":0.51},{"p":5,"r":0.31,"u":0.499},{"p":5,"r":0.35,"u":0.488},{"p":5,"r":0.389,"u":0.475},{"p":5,"r":0.42,"u":0.463},{"p":5,"r":0.46,"u":0.45},{"p":5,"r":0.503,"u":0.436},{"p":5,"r":0.54,"u":0.421},{"p":5,"r":0.58,"u":0.405},{"p":5,"r":0.617,"u":0.389},{"p":5,"r":0.655,"u":0.374},{"p":5,"r":0.69,"u":0.358},{"p":5,"r":0.731,"u":0.343},{"p":5,"r":0.77,"u":0.327},{"p":5,"r":0.81,"u":0.311},{"p":5,"r":0.845,"u":0.296},{"p":5,"r":0.88,"u":0.282},{"p":5,"r":0.92,"u":0.268},{"p":5,"r":0.959,"u":0.254},{"p":5,"r":1.0,"u":0.241},{"p":5,"r":1.035,"u":0.228},{"p":5,"r":1.073,"u":0.215},{"p":5,"r":1.11,"u":0.203},{"p":5,"r":1.15,"u":0.191},{"p":5,"r":1.187,"u":0.18},{"p":5,"r":1.225,"u":0.169},{"p":5,"r":1.26,"u":0.159},{"p":5,"r":1.3,"u":0.149},{"p":5,"r":1.34,"u":0.139},{"p":5,"r":1.38,"u":0.13},{"p":5,"r":1.415,"u":0.121},{"p":5,"r":1.455,"u":0.113},{"p":5,"r":1.49,"u":0.105},{"p":5,"r":1.529,"u":0.098},{"p":5,"r":1.565,"u":0.091},{"p":5,"r":1.6,"u":0.085},{"p":5,"r":1.642,"u":0.079},{"p":5,"r":1.68,"u":0.073},{"p":5,"r":1.72,"u":0.067},{"p":5,"r":1.756,"u":0.061},{"p":5,"r":1.79,"u":0.056},{"p":5,"r":1.83,"u":0.05},{"p":5,"r":1.87,"u":0.045},{"p":5,"r":1.91,"u":0.04},{"p":5,"r":1.95,"u":0.035},{"p":5,"r":1.984,"u":0.031},{"p":5,"r":2.02,"u":0.027},{"p":5,"r":2.06,"u":0.023},{"p":5,"r":2.098,"u":0.019},{"p":5,"r":2.14,"u":0.016},{"p":5,"r":2.18,"u":0.013},{"p":5,"r":2.212,"u":0.01},{"p":5,"r":2.26,"u":0.008},{"p":5,"r":2.326,"u":0.005},{"p":5,"r":2.38,"u":0.003},{"p":5,"r":2.44,"u":0.002},{"p":5,"r":2.5,"u":0.001},{"p":5,"r":2.554,"u":0.0},{"p":5,"r":2.6,"u":0.0},{"p":5,"r":2.65,"u":-0.001},{"p":5,"r":2.7,"u":-0.001},{"p":5,"r":2.75,"u":-0.002},{"p":5,"r":2.8,"u":-0.002},{"p":5,"r":2.85,"u":-0.002},{"p":5,"r":2.9,"u":-0.002},{"p":5,"r":2.95,"u":-0.002},{"p":5,"r":3.0,"u":-0.002},{"p":5,"r":3.065,"u":-0.002}
    ]
  },
  "columns": 3,
  "spacing": {"row": 37, "column": 46},
  "bounds": "flush",
  "resolve": {"scale": {"color": "independent"}},
  "concat": [
    {
      "width": 234, "height": 187, "title": "x/D = 0",
      "encoding": {
        "x": {"field": "r", "type": "quantitative", "scale": {"domain": [-0.5, 3.5], "nice": false, "zero": false}, "axis": {"values": [-0.5, 0, 0.5, 1, 1.5, 2, 2.5, 3, 3.5], "format": ".1f", "title": null}},
        "y": {"field": "u", "type": "quantitative", "scale": {"domain": [-0.1, 1.2], "nice": false, "zero": false}, "axis": {"values": [0, 0.2, 0.4, 0.6, 0.8, 1, 1.2], "format": ".1f", "title": ["U", "U\u0305j\u0305e\u0305t\u0305,\u0305E\u0305x\u0305p\u0305"]}},
        "color": {"field": "series", "type": "nominal", "scale": {"domain": ["RKE - ExtraFine", "RKE - Fine", "RKE - Medium", "CKE - ExtraFine", "CKE - Fine", "CKE - Medium", "Exp."], "range": ["#7f7ff2", "#5aa55a", "#ee8b80", "#6cc6c6", "#dd77dd", "#c4bd33", "#e63a2e"]}, "legend": null}
      },
      "layer": [
        {"data": {"name": "sim"}, "transform": [{"filter": "datum.p == 0"}, {"fold": ["a", "b", "c"], "as": ["k", "u"]}, {"lookup": "k", "from": {"data": {"name": "names"}, "key": "k", "fields": ["series"]}}],
          "mark": {"type": "line", "strokeWidth": 1, "strokeDash": [2, 2]}},
        {"data": {"name": "sim"}, "transform": [{"filter": "datum.p == 0"}, {"fold": ["d", "e", "f"], "as": ["k", "u"]}, {"lookup": "k", "from": {"data": {"name": "names"}, "key": "k", "fields": ["series"]}}],
          "mark": {"type": "line", "strokeWidth": 1.1}},
        {"data": {"name": "exp"}, "transform": [{"filter": "datum.p == 0"}],
          "mark": {"type": "circle", "size": 16, "opacity": 1},
          "encoding": {"color": {"datum": "Exp.", "type": "nominal", "legend": null}}}
      ]
    },
    {
      "width": 234, "height": 187, "title": "x/D = 2",
      "encoding": {
        "x": {"field": "r", "type": "quantitative", "scale": {"domain": [-0.5, 3.5], "nice": false, "zero": false}, "axis": {"values": [-0.5, 0, 0.5, 1, 1.5, 2, 2.5, 3, 3.5], "format": ".1f", "title": null}},
        "y": {"field": "u", "type": "quantitative", "scale": {"domain": [-0.1, 1.2], "nice": false, "zero": false}, "axis": {"values": [0, 0.2, 0.4, 0.6, 0.8, 1, 1.2], "format": ".1f", "title": null}},
        "color": {"field": "series", "type": "nominal", "scale": {"domain": ["RKE - ExtraFine", "RKE - Fine", "RKE - Medium", "CKE - ExtraFine", "CKE - Fine", "CKE - Medium", "Exp."], "range": ["#7f7ff2", "#5aa55a", "#ee8b80", "#6cc6c6", "#dd77dd", "#c4bd33", "#e63a2e"]}, "legend": null}
      },
      "layer": [
        {"data": {"name": "sim"}, "transform": [{"filter": "datum.p == 1"}, {"fold": ["a", "b", "c"], "as": ["k", "u"]}, {"lookup": "k", "from": {"data": {"name": "names"}, "key": "k", "fields": ["series"]}}],
          "mark": {"type": "line", "strokeWidth": 1, "strokeDash": [2, 2]}},
        {"data": {"name": "sim"}, "transform": [{"filter": "datum.p == 1"}, {"fold": ["d", "e", "f"], "as": ["k", "u"]}, {"lookup": "k", "from": {"data": {"name": "names"}, "key": "k", "fields": ["series"]}}],
          "mark": {"type": "line", "strokeWidth": 1.1}},
        {"data": {"name": "exp"}, "transform": [{"filter": "datum.p == 1"}],
          "mark": {"type": "circle", "size": 16, "opacity": 1},
          "encoding": {"color": {"datum": "Exp.", "type": "nominal", "legend": null}}}
      ]
    },
    {
      "width": 234, "height": 187, "title": "x/D = 4",
      "encoding": {
        "x": {"field": "r", "type": "quantitative", "scale": {"domain": [-0.5, 3.5], "nice": false, "zero": false}, "axis": {"values": [-0.5, 0, 0.5, 1, 1.5, 2, 2.5, 3, 3.5], "format": ".1f", "title": null}},
        "y": {"field": "u", "type": "quantitative", "scale": {"domain": [-0.1, 1.2], "nice": false, "zero": false}, "axis": {"values": [0, 0.2, 0.4, 0.6, 0.8, 1, 1.2], "format": ".1f", "title": null}},
        "color": {"field": "series", "type": "nominal", "scale": {"domain": ["RKE - ExtraFine", "RKE - Fine", "RKE - Medium", "CKE - ExtraFine", "CKE - Fine", "CKE - Medium", "Exp."], "range": ["#7f7ff2", "#5aa55a", "#ee8b80", "#6cc6c6", "#dd77dd", "#c4bd33", "#e63a2e"]}, "legend": null}
      },
      "layer": [
        {"data": {"name": "sim"}, "transform": [{"filter": "datum.p == 2"}, {"fold": ["a", "b", "c"], "as": ["k", "u"]}, {"lookup": "k", "from": {"data": {"name": "names"}, "key": "k", "fields": ["series"]}}],
          "mark": {"type": "line", "strokeWidth": 1, "strokeDash": [2, 2]}},
        {"data": {"name": "sim"}, "transform": [{"filter": "datum.p == 2"}, {"fold": ["d", "e", "f"], "as": ["k", "u"]}, {"lookup": "k", "from": {"data": {"name": "names"}, "key": "k", "fields": ["series"]}}],
          "mark": {"type": "line", "strokeWidth": 1.1}},
        {"data": {"name": "exp"}, "transform": [{"filter": "datum.p == 2"}],
          "mark": {"type": "circle", "size": 16, "opacity": 1},
          "encoding": {"color": {"datum": "Exp.", "type": "nominal", "legend": null}}}
      ]
    },
    {
      "width": 234, "height": 187, "title": "x/D = 8",
      "encoding": {
        "x": {"field": "r", "type": "quantitative", "scale": {"domain": [-0.5, 3.5], "nice": false, "zero": false}, "axis": {"values": [-0.5, 0, 0.5, 1, 1.5, 2, 2.5, 3, 3.5], "format": ".1f", "title": ["y", "D\u0305"]}},
        "y": {"field": "u", "type": "quantitative", "scale": {"domain": [-0.1, 1.2], "nice": false, "zero": false}, "axis": {"values": [0, 0.2, 0.4, 0.6, 0.8, 1, 1.2], "format": ".1f", "title": ["U", "U\u0305j\u0305e\u0305t\u0305,\u0305E\u0305x\u0305p\u0305"]}},
        "color": {"field": "series", "type": "nominal", "scale": {"domain": ["RKE - ExtraFine", "RKE - Fine", "RKE - Medium", "CKE - ExtraFine", "CKE - Fine", "CKE - Medium", "Exp."], "range": ["#7f7ff2", "#5aa55a", "#ee8b80", "#6cc6c6", "#dd77dd", "#c4bd33", "#e63a2e"]}, "legend": null}
      },
      "layer": [
        {"data": {"name": "sim"}, "transform": [{"filter": "datum.p == 3"}, {"fold": ["a", "b", "c"], "as": ["k", "u"]}, {"lookup": "k", "from": {"data": {"name": "names"}, "key": "k", "fields": ["series"]}}],
          "mark": {"type": "line", "strokeWidth": 1, "strokeDash": [2, 2]}},
        {"data": {"name": "sim"}, "transform": [{"filter": "datum.p == 3"}, {"fold": ["d", "e", "f"], "as": ["k", "u"]}, {"lookup": "k", "from": {"data": {"name": "names"}, "key": "k", "fields": ["series"]}}],
          "mark": {"type": "line", "strokeWidth": 1.1}},
        {"data": {"name": "exp"}, "transform": [{"filter": "datum.p == 3"}],
          "mark": {"type": "circle", "size": 16, "opacity": 1},
          "encoding": {"color": {"datum": "Exp.", "type": "nominal", "legend": null}}}
      ]
    },
    {
      "width": 234, "height": 187, "title": "x/D = 12",
      "encoding": {
        "x": {"field": "r", "type": "quantitative", "scale": {"domain": [-0.5, 3.5], "nice": false, "zero": false}, "axis": {"values": [-0.5, 0, 0.5, 1, 1.5, 2, 2.5, 3, 3.5], "format": ".1f", "title": ["y", "D\u0305"]}},
        "y": {"field": "u", "type": "quantitative", "scale": {"domain": [-0.1, 1.2], "nice": false, "zero": false}, "axis": {"values": [0, 0.2, 0.4, 0.6, 0.8, 1, 1.2], "format": ".1f", "title": null}},
        "color": {"field": "series", "type": "nominal", "scale": {"domain": ["RKE - ExtraFine", "RKE - Fine", "RKE - Medium", "CKE - ExtraFine", "CKE - Fine", "CKE - Medium", "Exp."], "range": ["#7f7ff2", "#5aa55a", "#ee8b80", "#6cc6c6", "#dd77dd", "#c4bd33", "#e63a2e"]}, "legend": null}
      },
      "layer": [
        {"data": {"name": "sim"}, "transform": [{"filter": "datum.p == 4"}, {"fold": ["a", "b", "c"], "as": ["k", "u"]}, {"lookup": "k", "from": {"data": {"name": "names"}, "key": "k", "fields": ["series"]}}],
          "mark": {"type": "line", "strokeWidth": 1, "strokeDash": [2, 2]}},
        {"data": {"name": "sim"}, "transform": [{"filter": "datum.p == 4"}, {"fold": ["d", "e", "f"], "as": ["k", "u"]}, {"lookup": "k", "from": {"data": {"name": "names"}, "key": "k", "fields": ["series"]}}],
          "mark": {"type": "line", "strokeWidth": 1.1}},
        {"data": {"name": "exp"}, "transform": [{"filter": "datum.p == 4"}],
          "mark": {"type": "circle", "size": 16, "opacity": 1},
          "encoding": {"color": {"datum": "Exp.", "type": "nominal", "legend": null}}}
      ]
    },
    {
      "width": 234, "height": 187, "title": "x/D = 16",
      "encoding": {
        "x": {"field": "r", "type": "quantitative", "scale": {"domain": [-0.5, 3.5], "nice": false, "zero": false}, "axis": {"values": [-0.5, 0, 0.5, 1, 1.5, 2, 2.5, 3, 3.5], "format": ".1f", "title": ["y", "D\u0305"]}},
        "y": {"field": "u", "type": "quantitative", "scale": {"domain": [-0.1, 1.2], "nice": false, "zero": false}, "axis": {"values": [0, 0.2, 0.4, 0.6, 0.8, 1, 1.2], "format": ".1f", "title": null}},
        "color": {"field": "series", "type": "nominal", "scale": {"domain": ["RKE - ExtraFine", "RKE - Fine", "RKE - Medium", "CKE - ExtraFine", "CKE - Fine", "CKE - Medium", "Exp."], "range": ["#7f7ff2", "#5aa55a", "#ee8b80", "#6cc6c6", "#dd77dd", "#c4bd33", "#e63a2e"]},
          "legend": {
            "orient": "top-right", "offset": 1, "title": null,
            "strokeColor": "#999", "fillColor": "white", "padding": 4,
            "labelFont": "DejaVu Sans", "labelFontSize": 10, "labelColor": "black",
            "symbolSize": 210, "rowPadding": 1, "labelOffset": 11,
            "encode": {"symbols": {"update": {
              "shape": {"signal": "datum.value == 'Exp.' ? 'M-1.07,0a0.22,0.22 0 1,0 0.44,0a0.22,0.22 0 1,0 -0.44,0M0.63,0a0.22,0.22 0 1,0 0.44,0a0.22,0.22 0 1,0 -0.44,0' : 'stroke'"},
              "fill": {"signal": "datum.value == 'Exp.' ? '#e63a2e' : 'transparent'"},
              "stroke": {"signal": "datum.value == 'RKE - ExtraFine' ? '#7f7ff2' : datum.value == 'RKE - Fine' ? '#5aa55a' : datum.value == 'RKE - Medium' ? '#ee8b80' : datum.value == 'CKE - ExtraFine' ? '#6cc6c6' : datum.value == 'CKE - Fine' ? '#dd77dd' : datum.value == 'CKE - Medium' ? '#c4bd33' : 'transparent'"},
              "strokeWidth": {"value": 1.2},
              "strokeDash": {"signal": "indexof(datum.value, 'RKE') == 0 ? [2, 2] : [1, 0]"},
              "opacity": {"value": 1}
            }}}
          }}
      },
      "layer": [
        {"data": {"name": "sim"}, "transform": [{"filter": "datum.p == 5"}, {"fold": ["a", "b", "c"], "as": ["k", "u"]}, {"lookup": "k", "from": {"data": {"name": "names"}, "key": "k", "fields": ["series"]}}],
          "mark": {"type": "line", "strokeWidth": 1, "strokeDash": [2, 2]}},
        {"data": {"name": "sim"}, "transform": [{"filter": "datum.p == 5"}, {"fold": ["d", "e", "f"], "as": ["k", "u"]}, {"lookup": "k", "from": {"data": {"name": "names"}, "key": "k", "fields": ["series"]}}],
          "mark": {"type": "line", "strokeWidth": 1.1}},
        {"data": {"name": "exp"}, "transform": [{"filter": "datum.p == 5"}],
          "mark": {"type": "circle", "size": 16, "opacity": 1},
          "encoding": {"color": {"datum": "Exp.", "type": "nominal"}}}
      ]
    }
  ],
  "config": {
    "view": {"stroke": "#9a9a9a", "strokeWidth": 1},
    "axis": {
      "grid": false, "domain": false,
      "labelFont": "DejaVu Sans", "labelFontSize": 10.5, "labelColor": "black",
      "labelFlush": false, "labelOverlap": false, "labelBound": false,
      "tickColor": "#555", "tickSize": -4, "labelPadding": 6,
      "titleFont": "DejaVu Serif", "titleFontStyle": "italic", "titleFontWeight": "normal",
      "titleFontSize": 11, "titleColor": "black", "titleLineHeight": 13, "titlePadding": 2
    },
    "title": {"font": "Liberation Serif", "fontStyle": "italic", "fontSize": 16.5, "fontWeight": "normal", "color": "black", "offset": -6, "frame": "group"}
  }
}
